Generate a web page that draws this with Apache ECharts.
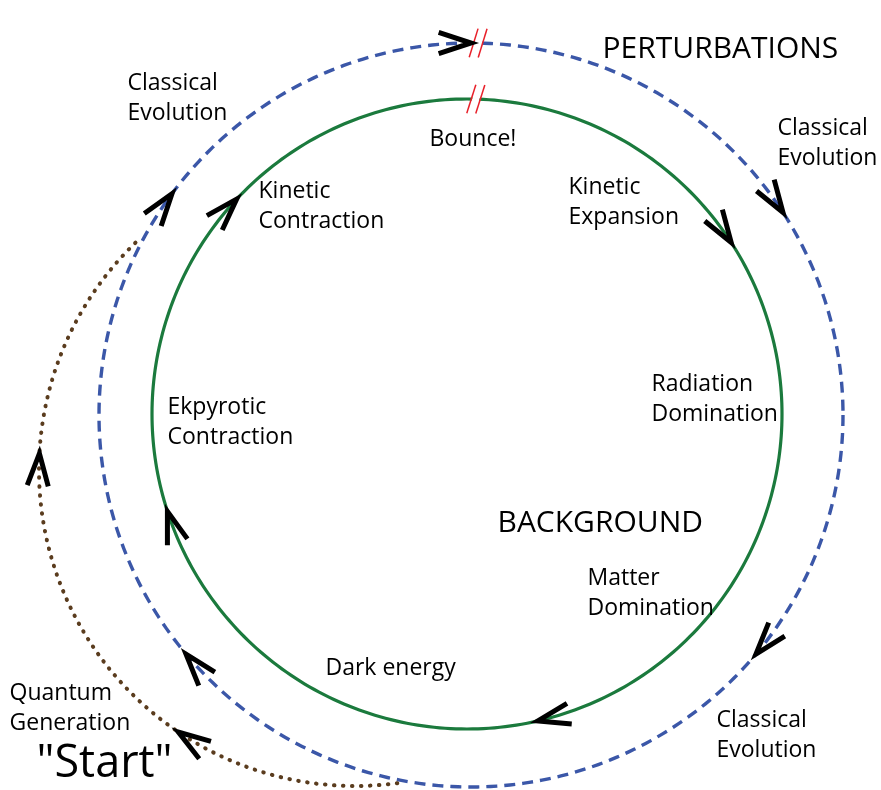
<!DOCTYPE html>
<html><head><meta charset="utf-8">
<script src="https://cdn.jsdelivr.net/npm/echarts@6/dist/echarts.min.js"></script>
<style>html,body{margin:0;padding:0;background:#fff}#c{width:881px;height:790px}</style>
</head><body><div id="c"></div>
<script>
// ---- cycle geometry (units of the hidden axes) ----
const cycleNames    = ['BACKGROUND', 'PERTURBATIONS', 'Quantum Generation'];
const cycleCenterX  = [467, 471, 355];
const cycleCenterY  = [414, 415, 470];
const cycleRadius   = [315, 372, 316];
const cycleStartDeg = [0, 0, 81];
const cycleEndDeg   = [360, 360, 226];

// arrowheads (angle in degrees on each cycle, direction of travel = increasing angle)
const backgroundArrowDeg   = [223, -33, 77, 162];
const perturbationArrowDeg = [-90, -33, 40, 140, 216.5];
const quantumArrowDeg      = [124, 183];

// "//" break marks: which cycle, at what angle
const breakCycle = [0, 1];
const breakDeg   = [-88.4, -88.9];

// labels
const labelTexts = ['Match', 'PERTURBATIONS', 'Classical\nEvolution', 'Bounce!', 'Classical\nEvolution',
  'Kinetic\nContraction', 'Kinetic\nExpansion', 'Radiation\nDomination', 'Ekpyrotic\nContraction',
  'BACKGROUND', 'Matter\nDomination', 'Dark energy', 'Quantum\nGeneration', '"Start"', 'Classical\nEvolution'];
const labelX    = [441, 603, 128, 430, 778, 259, 569, 652, 168, 498, 588, 326, 10, 37, 717];
const labelY    = [14, 50, 84, 140, 129, 192, 188, 385, 408, 524, 579, 669, 694, 765, 721];
const labelSize = [23, 30, 23, 23, 23, 23, 23, 23, 23, 30, 23, 23, 23, 45, 23];

// ---- styles ----
const cycleColors = ['#1b7a3d', '#3b57a8', '#5a3c1e'];
const rad = d => d * Math.PI / 180;
function onCycle(ci, deg) {
  return [cycleCenterX[ci] + cycleRadius[ci] * Math.cos(rad(deg)),
          cycleCenterY[ci] + cycleRadius[ci] * Math.sin(rad(deg))];
}
function cyclePath(ci) {
  const pts = [];
  for (let d = cycleStartDeg[ci]; d <= cycleEndDeg[ci] + 1e-9; d += 1) pts.push(onCycle(ci, d));
  return pts;
}
function arrowHead(ci, deg) {
  const tip = onCycle(ci, deg);
  const back = Math.atan2(-Math.cos(rad(deg)), Math.sin(rad(deg))); // opposite of travel
  const L = 34, h = rad(18);
  return [[tip[0] + L * Math.cos(back + h), tip[1] + L * Math.sin(back + h)], tip,
          [tip[0] + L * Math.cos(back - h), tip[1] + L * Math.sin(back - h)]];
}
const arrowData = [];
backgroundArrowDeg.forEach(d => arrowData.push({coords: arrowHead(0, d)}));
perturbationArrowDeg.forEach(d => arrowData.push({coords: arrowHead(1, d)}));
quantumArrowDeg.forEach(d => arrowData.push({coords: arrowHead(2, d)}));

const slashData = [], maskData = [];
breakCycle.forEach((ci, i) => {
  const deg = breakDeg[i];
  const c = onCycle(ci, deg);
  const t = [-Math.sin(rad(deg)), Math.cos(rad(deg))];
  const n = [Math.cos(rad(deg)), Math.sin(rad(deg))];
  const a = rad(16);
  const s = [Math.cos(a) * n[0] + Math.sin(a) * t[0], Math.cos(a) * n[1] + Math.sin(a) * t[1]];
  [-4.5, 4.5].forEach(o => {
    const m = [c[0] + o * t[0], c[1] + o * t[1]];
    slashData.push({coords: [[m[0] - 15 * s[0], m[1] - 15 * s[1]], [m[0] + 15 * s[0], m[1] + 15 * s[1]]]});
  });
  maskData.push({coords: [[c[0] - 9 * s[0], c[1] - 9 * s[1]], [c[0] + 9 * s[0], c[1] + 9 * s[1]]]});
});

const chart = echarts.init(document.getElementById('c'), null, {renderer: 'canvas'});
chart.setOption({
  animation: false,
  grid: {left: 0, right: 0, top: 0, bottom: 0},
  xAxis: {type: 'value', min: 0, max: 881, show: false},
  yAxis: {type: 'value', min: 0, max: 790, inverse: true, show: false},
  series: [
    {type: 'lines', name: cycleNames[0], coordinateSystem: 'cartesian2d', polyline: true, silent: true, z: 2,
     lineStyle: {color: cycleColors[0], width: 3.2, opacity: 1},
     data: [{coords: cyclePath(0)}]},
    {type: 'lines', name: cycleNames[1], coordinateSystem: 'cartesian2d', polyline: true, silent: true, z: 2,
     lineStyle: {color: cycleColors[1], width: 3.4, type: [11, 7], opacity: 1},
     data: [{coords: cyclePath(1)}]},
    {type: 'lines', name: cycleNames[2], coordinateSystem: 'cartesian2d', polyline: true, silent: true, z: 2,
     lineStyle: {color: cycleColors[2], width: 4, type: [0.5, 8.5], cap: 'round', opacity: 1},
     data: [{coords: cyclePath(2).reverse()}]},
    {type: 'lines', coordinateSystem: 'cartesian2d', polyline: false, silent: true, z: 3,
     lineStyle: {color: '#ffffff', width: 7, opacity: 1}, data: maskData},
    {type: 'lines', coordinateSystem: 'cartesian2d', polyline: false, silent: true, z: 4,
     lineStyle: {color: '#e8202a', width: 1.5, opacity: 1}, data: slashData},
    {type: 'lines', coordinateSystem: 'cartesian2d', polyline: true, silent: true, z: 5,
     lineStyle: {color: '#000000', width: 5, join: 'miter', cap: 'butt', opacity: 1}, data: arrowData},
    {type: 'scatter', silent: true, z: 6, symbolSize: 1,
     itemStyle: {color: 'rgba(0,0,0,0)'},
     data: labelTexts.map((t, i) => {
       const lh = Math.round(labelSize[i] * 1.3);
       return {value: [labelX[i], labelY[i] - lh / 2],
               label: {fontSize: labelSize[i], lineHeight: lh}};
     }),
     label: {show: true, position: [0, 0], align: 'left', verticalAlign: 'top',
             fontFamily: '"Open Sans", "Noto Sans", sans-serif', color: '#000', opacity: 1,
             textBorderWidth: 0, formatter: p => labelTexts[p.dataIndex]}}
  ]
});
</script></body></html>
